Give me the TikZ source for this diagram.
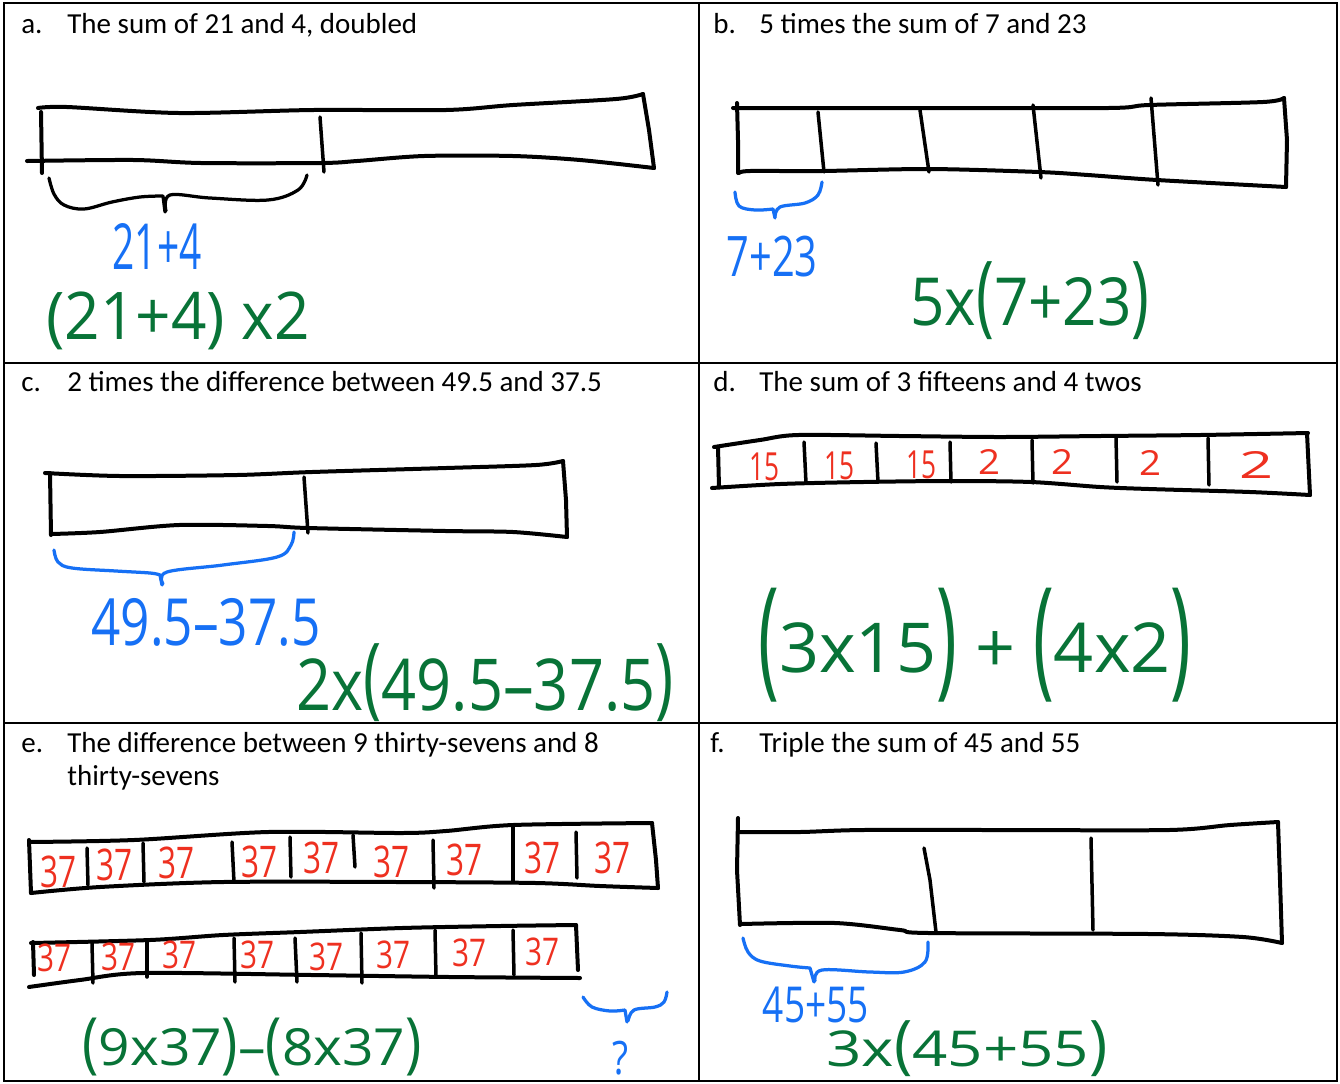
\documentclass[tikz,border=0pt]{standalone}
\usepackage{fontspec}
\setmainfont{Carlito}
\newfontfamily\handfont{Open Sans}
\usepackage{graphicx}
\usetikzlibrary{positioning}
\definecolor{penBlue}{RGB}{22,112,245}
\definecolor{penGreen}{RGB}{8,115,55}
\definecolor{penRed}{RGB}{238,48,32}
\newlength{\pxu}
\setlength{\pxu}{0.02cm}
% handwriting box: width, height (in px), text
\newcommand{\hw}[3]{\resizebox*{#1\pxu}{#2\pxu}{#3}}
% tall bracket: vertical stretch, raise, glyph
\newcommand{\tallp}[3]{\raisebox{#2}{\scalebox{1}[#1]{#3}}}
\tikzset{
    gridLine/.style={line width=0.035cm, draw=black},
    tapeLine/.style={line width=0.08cm, line cap=round, line join=round},
    tapeTick/.style={line width=0.07cm, line cap=round},
    braceBlack/.style={line width=0.065cm, line cap=round, line join=round},
    braceBlue/.style={braceBlack, draw=penBlue},
    % printed text
    task/.style={font=\fontsize{16.5}{20}\selectfont, inner sep=0pt, anchor=base west},
    % pen text
    penText/.style={font=\handfont, inner sep=0pt},
    blueText/.style={penText, text=penBlue},
    greenText/.style={penText, text=penGreen},
    redText/.style={penText, text=penRed}
}

\begin{document}
\begin{tikzpicture}[x=0.02cm, y=-0.02cm]
\clip (0,0) rectangle (1340,1083);
\fill[white] (0,0) rectangle (1340,1083);

% table
\draw[gridLine] (4,3) rectangle (1337,1081);
\draw[gridLine] (699,3) -- (699,1081);
\draw[gridLine] (4,363) -- (1337,363);
\draw[gridLine] (4,723) -- (1337,723);

% titles
\node[task] (labA) at (21,33) {a.};
\node[task] (taskA) at (67,33) {The sum of 21 and 4, doubled};
\node[task] (labB) at (713,33) {b.};
\node[task] (taskB) at (759,33) {5 times the sum of 7 and 23};
\node[task] (labC) at (21,391) {c.};
\node[task] (taskC) at (67,391) {2 times the difference between 49.5 and 37.5};
\node[task] (labD) at (713,391) {d.};
\node[task] (taskD) at (759,391) {The sum of 3 fifteens and 4 twos};
\node[task] (labE) at (21,752) {e.};
\node[task] (taskE) at (67,752) {The difference between 9 thirty-sevens and 8};
\node[task] (taskE2) at (67,785) {thirty-sevens};
\node[task] (labF) at (710,752) {f.};
\node[task] (taskF) at (759,752) {Triple the sum of 45 and 55};

% panel a
\draw[tapeLine] plot[smooth, tension=0.5] coordinates {(38,108) (67,107) (179,113) (313,110) (446,110) (513,105) (616,99) (643,94)};
\draw[tapeLine] (643,94) -- (649,130) -- (654,168);
\draw[tapeLine] plot[smooth, tension=0.5] coordinates {(654,168) (580,160) (513,156) (424,156) (357,161) (321,163) (201,163) (134,160) (27,161)};
\draw[tapeLine] (41,112) -- (42,173);
\draw[tapeTick] (320,117) -- (324,172);
\draw[braceBlack] plot[smooth, tension=0.6] coordinates {(49,178) (54,194) (64,205) (84,209) (112,202) (140,197) (163,196)} -- (165,212);
\draw[braceBlack] plot[smooth, tension=0.6] coordinates {(166,211) (170,195) (210,198) (268,200) (298,190) (307,175)};
\node[blueText] (sumA) at (157,246) {\hw{89}{46}{21+4}};
\node[greenText] (exprA) at (178,321) {\hw{263}{58}{(21+4) x2}};

% panel b
\draw[tapeLine] plot[smooth, tension=0.5] coordinates {(733,108) (904,108) (1108,108) (1149,105) (1263,102) (1284,98)};
\draw[tapeLine] (1284,98) -- (1287,140) -- (1286,187);
\draw[tapeLine] plot[smooth, tension=0.5] coordinates {(1286,187) (1157,180) (1088,175) (1039,172) (929,169) (822,171) (750,171) (739,173)};
\draw[tapeLine] (737,103) -- (738,140) -- (738,173);
\foreach \xa/\ya/\xb/\yb in {818/112/824/172, 920/110/929/172, 1033/105/1041/178, 1151/98/1158/185}
    \draw[tapeTick] (\xa,\ya) -- (\xb,\yb);
\draw[braceBlue] plot[smooth, tension=0.6] coordinates {(735,192) (739,206) (755,210) (773,209)} -- (775,218);
\draw[braceBlue] plot[smooth, tension=0.6] coordinates {(775,217) (780,207) (805,203) (818,195) (822,182)};
\node[blueText] (sumB) at (772,257) {\hw{91}{41}{7+23}};
\node[greenText] (exprB) at (1030,301) {\hw{239}{78}{5x\tallp{1.35}{0em}{(}7+23\tallp{1.35}{0em}{)}}};

% panel c
\draw[tapeLine] plot[smooth, tension=0.5] coordinates {(45,473) (120,476) (237,475) (312,472) (446,468) (536,465) (563,461)};
\draw[tapeLine] (563,461) -- (566,500) -- (567,537);
\draw[tapeLine] plot[smooth, tension=0.5] coordinates {(567,537) (513,532) (446,531) (308,528) (268,526) (179,525) (100,532) (51,534)};
\draw[tapeLine] (50,473) -- (51,535);
\draw[tapeTick] (304,477) -- (308,533);
\draw[braceBlue] plot[smooth, tension=0.6] coordinates {(54,550) (58,562) (72,568) (116,571) (150,573) (160,575)} -- (162,585);
\draw[braceBlue] plot[smooth, tension=0.6] coordinates {(163,584) (167,572) (223,565) (277,557) (291,545) (294,532)};
\node[blueText] (diffC) at (206,622) {\hw{229}{48}{49.5–37.5}};
\node[greenText] (exprC) at (485,683) {\hw{377}{78}{2x\tallp{1.25}{0.03em}{(}49.5–37.5\tallp{1.25}{0.03em}{)}}};

% panel d
\draw[tapeLine] plot[smooth, tension=0.5] coordinates {(714,447) (760,440) (798,435) (900,436) (1000,437) (1100,436) (1200,435) (1308,433)};
\draw[tapeLine] (1307,433) -- (1310,495);
\draw[tapeLine] plot[smooth, tension=0.5] coordinates {(1310,495) (1250,492) (1149,489) (1100,487) (1031,482) (950,481) (863,482) (780,484) (712,488)};
\draw[tapeLine] (718,447) -- (719,487);
\foreach \xa/\ya/\xb/\yb in {804/442/806/483, 876/443/878/482, 950/442/951/482, 1032/440/1033/483, 1116/437/1117/482, 1208/438/1209/485}
    \draw[tapeTick] (\xa,\ya) -- (\xb,\yb);
\foreach \x/\y [count=\i] in {764/467, 839/466, 921/465}
    \node[redText] (fifteen\i) at (\x,\y) {\hw{30}{28}{15}};
\foreach \x/\y [count=\i] in {989/462, 1062/462, 1150/463}
    \node[redText] (two\i) at (\x,\y) {\hw{22}{25}{2}};
\node[redText] (two4) at (1256,465) {\hw{34}{27}{2}};
\node[greenText] (exprD) at (975,645) {\hw{433}{114}{\tallp{1.9}{-0.13em}{(}3x15\tallp{1.9}{-0.13em}{)} + \tallp{1.9}{-0.13em}{(}4x2\tallp{1.9}{-0.13em}{)}}};

% panel e
\draw[tapeLine] plot[smooth, tension=0.5] coordinates {(29,842) (134,840) (268,832) (402,833) (446,831) (513,825) (652,823)};
\draw[tapeLine] (652,823) -- (656,860) -- (658,888);
\draw[tapeLine] plot[smooth, tension=0.5] coordinates {(658,888) (600,886) (536,883) (400,882) (223,882) (100,887) (31,893)};
\draw[tapeLine] (29,840) -- (31,893);
\foreach \xa/\ya/\xb/\yb in {87/848/88/885, 143/843/144/882, 232/842/234/882, 290/837/291/877, 353/835/355/867, 433/840/434/888, 513/827/513/882, 576/832/577/878}
    \draw[tapeTick] (\xa,\ya) -- (\xb,\yb);
\foreach \x/\y [count=\i] in {58/872, 114/865, 176/863, 259/862, 321/858, 391/862, 464/860, 542/858, 612/858}
    \node[redText] (nineSeven\i) at (\x,\y) {\hw{36}{32}{37}};
\draw[tapeLine] plot[smooth, tension=0.5] coordinates {(31,943) (150,940) (223,935) (300,932) (402,928) (500,926) (576,925)};
\draw[tapeLine] (576,925) -- (578,970);
\draw[tapeLine] plot[smooth, tension=0.5] coordinates {(580,978) (450,977) (312,975) (143,973) (80,980) (29,987)};
\draw[tapeLine] (33,942) -- (34,975);
\foreach \xa/\ya/\xb/\yb in {92/943/93/983, 147/942/147/977, 234/938/235/982, 295/938/297/982, 361/933/362/983, 435/930/436/977, 513/930/514/975}
    \draw[tapeTick] (\xa,\ya) -- (\xb,\yb);
\foreach \x/\y [count=\i] in {54/958, 118/957, 179/955, 257/955, 326/957, 393/955, 469/953, 542/952}
    \node[redText] (eightSeven\i) at (\x,\y) {\hw{34}{28}{37}};
\draw[braceBlue] plot[smooth, tension=0.6] coordinates {(583,997) (592,1007) (610,1011) (625,1010)} -- (627,1022);
\draw[braceBlue] plot[smooth, tension=0.6] coordinates {(628,1021) (634,1010) (655,1007) (664,1002) (667,992)};
\node[blueText] (gapE) at (620,1058) {\hw{16}{34}{?}};
\node[greenText] (exprE) at (252,1047) {\hw{339}{58}{\tallp{1.3}{0em}{(}9x37\tallp{1.3}{0em}{)}–\tallp{1.3}{0em}{(}8x37\tallp{1.3}{0em}{)}}};

% panel f
\draw[tapeLine] plot[smooth, tension=0.5] coordinates {(739,832) (800,832) (863,830) (1000,830) (1169,830) (1230,825) (1278,822)};
\draw[tapeLine] (1278,822) -- (1280,880) -- (1282,943);
\draw[tapeLine] plot[smooth, tension=0.5] coordinates {(1282,943) (1243,937) (1149,934) (929,933) (900,930) (835,923) (741,924)};
\draw[tapeLine] (738,818) -- (737,870) -- (740,925);
\draw[tapeTick] (924,848) -- (930,880) -- (936,932);
\draw[tapeTick] (1091,838) -- (1093,930);
\draw[braceBlue] plot[smooth, tension=0.6] coordinates {(743,938) (748,952) (760,961) (790,966) (810,968)} -- (814,982);
\draw[braceBlue] plot[smooth, tension=0.6] coordinates {(815,981) (822,970) (870,972) (904,972) (925,962) (928,942)};
\node[blueText] (sumF) at (816,1005) {\hw{106}{36}{45+55}};
\node[greenText] (exprF) at (967,1049) {\hw{281}{56}{3x\tallp{1.3}{0em}{(}45+55\tallp{1.3}{0em}{)}}};
\end{tikzpicture}
\end{document}
